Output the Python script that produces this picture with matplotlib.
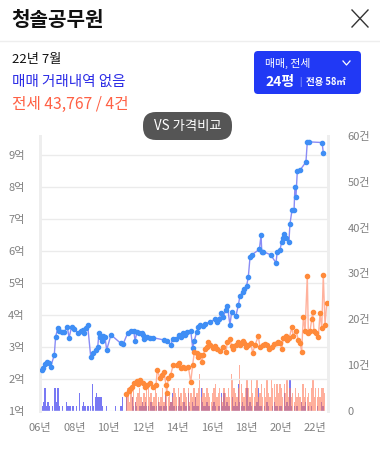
import numpy as np
import matplotlib.pyplot as plt
from matplotlib.patches import FancyBboxPatch

plt.rcParams['font.family'] = ['Noto Sans CJK KR', 'DejaVu Sans']

# 매매 시세 (억) - 연도(소수), 가격
sale_year = [2006.10, 2006.19, 2006.29, 2006.42, 2006.52, 2006.62, 2006.83, 2006.91,
             2007.03, 2007.11, 2007.26, 2007.41, 2007.59, 2007.69, 2007.84, 2008.00,
             2008.19, 2008.37, 2008.52, 2008.58, 2008.66, 2008.77, 2008.95, 2009.10,
             2009.24, 2009.36, 2009.43, 2009.51, 2009.59, 2009.66, 2009.78, 2009.88,
             2010.13, 2010.71, 2010.83, 2011.10, 2011.29, 2011.45, 2011.53, 2011.64,
             2011.76, 2011.92, 2012.01, 2012.05, 2012.24, 2012.40, 2012.59, 2013.21,
             2013.37, 2013.60, 2013.72, 2013.91, 2014.10, 2014.22, 2014.34, 2014.44,
             2014.53, 2014.77, 2014.88, 2014.98, 2015.12, 2015.21, 2015.31, 2015.46,
             2015.60, 2015.89, 2016.18, 2016.28, 2016.43, 2016.53, 2016.66, 2016.82,
             2016.90, 2017.05, 2017.15, 2017.40, 2017.54, 2017.63, 2017.79, 2017.87,
             2018.02, 2018.12, 2018.22, 2018.32, 2018.76, 2018.86, 2018.90, 2018.99,
             2019.42, 2019.73, 2019.80, 2019.96, 2020.06, 2020.12, 2020.19, 2020.31,
             2020.48, 2020.54, 2020.66, 2020.78, 2020.83, 2020.89, 2020.97, 2021.13,
             2021.47, 2021.55, 2021.67, 2022.41, 2022.48]
sale_price = [2.28, 2.35, 2.46, 2.54, 2.49, 2.38, 2.75, 3.32,
              3.58, 3.51, 3.48, 3.47, 3.63, 3.29, 3.63, 3.55,
              3.45, 3.51, 3.53, 3.43, 3.58, 3.69, 2.70, 2.80,
              2.91, 3.01, 3.45, 3.32, 3.20, 3.34, 3.30, 2.91,
              3.38, 3.11, 3.09, 3.43, 3.51, 3.51, 3.20, 3.46,
              3.43, 3.43, 3.38, 3.24, 3.32, 3.29, 3.29, 3.22,
              3.20, 3.06, 3.24, 3.25, 3.38, 3.32, 3.45, 3.38,
              3.48, 3.51, 2.98, 3.20, 3.48, 3.61, 3.69, 3.66,
              3.72, 3.79, 3.86, 3.79, 3.86, 4.07, 3.95, 4.16,
              4.29, 3.69, 4.10, 3.98, 4.31, 4.60, 4.72, 4.82,
              4.91, 5.20, 5.82, 5.88, 6.05, 6.50, 5.98, 5.98,
              5.88, 5.63, 5.98, 6.03, 6.29, 6.40, 6.53, 6.40,
              6.29, 6.84, 7.28, 7.28, 8.01, 7.70, 8.51, 8.53,
              8.78, 9.41, 9.41, 9.39, 9.07]

# 전세 시세 (억)
rent_year = [2011.03, 2011.16, 2011.24, 2011.33, 2011.49, 2011.63, 2011.70, 2011.82,
             2012.01, 2012.11, 2012.24, 2012.40, 2012.59, 2012.75, 2012.82, 2012.98,
             2013.08, 2013.21, 2013.33, 2013.37, 2013.46, 2013.60, 2013.75, 2013.95,
             2014.10, 2014.18, 2014.30, 2014.44, 2014.63, 2014.77, 2014.88, 2014.98,
             2015.12, 2015.21, 2015.31, 2015.41, 2015.50, 2015.60, 2015.70, 2015.79,
             2015.89, 2016.05, 2016.18, 2016.28, 2016.47, 2016.66, 2016.82, 2016.90,
             2017.05, 2017.15, 2017.24, 2017.40, 2017.54, 2017.63, 2017.79, 2017.87,
             2017.98, 2018.12, 2018.26, 2018.37, 2018.51, 2018.70, 2018.80, 2018.96,
             2019.09, 2019.22, 2019.34, 2019.48, 2019.61, 2019.77, 2019.86, 2019.96,
             2020.06, 2020.15, 2020.31, 2020.39, 2020.50, 2020.64, 2020.74, 2020.89,
             2021.03, 2021.13, 2021.22, 2021.32, 2021.42, 2021.55, 2021.61, 2021.71,
             2021.81, 2021.86, 2021.94, 2022.06, 2022.19, 2022.29, 2022.39, 2022.48,
             2022.58, 2022.68]
rent_price = [1.53, 1.62, 1.68, 1.74, 1.88, 1.95, 1.84, 1.97,
              1.87, 1.76, 1.81, 1.87, 1.76, 1.81, 2.28, 2.02,
              2.13, 2.23, 1.81, 1.57, 2.02, 2.13, 2.44, 2.44,
              2.49, 2.33, 2.38, 2.33, 2.38, 1.90, 2.44, 2.85,
              2.80, 2.68, 2.75, 2.54, 2.75, 2.93, 2.99, 3.17,
              3.06, 2.96, 3.03, 2.93, 2.89, 3.01, 2.85, 3.17,
              3.24, 3.03, 2.93, 3.06, 3.17, 3.06, 3.20, 3.14,
              3.01, 3.06, 3.14, 2.82, 3.06, 3.34, 2.99, 3.06,
              3.09, 3.06, 2.93, 3.01, 3.08, 3.11, 3.17, 3.14,
              2.93, 3.27, 3.34, 3.22, 3.27, 3.61, 3.34, 3.51,
              3.22, 3.14, 2.85, 3.95, 3.50, 5.22, 3.43, 3.51,
              3.87, 4.10, 3.51, 3.43, 3.30, 4.05, 3.58, 5.25,
              3.69, 4.37]

# 월별 매매 거래건수 (2006-01 ~ 2022-07)
sale_counts = [1, 1, 2, 5, 1, 2, 1, 0, 1, 0, 5, 2,
               5, 1, 0, 1, 0, 0, 2, 1, 1, 1, 1, 1,
               0, 1, 0, 4, 0, 1, 2, 1, 0, 1, 0, 1,
               6, 1, 3, 4, 3, 3, 3, 1, 0, 0, 1, 0,
               0, 0, 0, 0, 1, 0, 0, 0, 1, 3, 0, 0,
               3, 0, 0, 0, 3, 1, 2, 1, 0, 1, 1, 2,
               1, 2, 1, 1, 0, 2, 1, 1, 0, 1, 2, 1,
               1, 0, 1, 4, 1, 0, 1, 2, 4, 1, 0, 1,
               1, 3, 1, 0, 2, 1, 1, 4, 1, 0, 2, 1,
               3, 1, 1, 0, 5, 2, 1, 1, 2, 1, 1, 0,
               1, 2, 1, 0, 1, 1, 4, 1, 4, 1, 2, 1,
               1, 0, 3, 1, 2, 1, 6, 2, 1, 2, 1, 0,
               5, 1, 2, 1, 0, 1, 1, 2, 5, 1, 1, 0,
               1, 0, 2, 1, 0, 0, 1, 2, 1, 1, 0, 1,
               1, 0, 4, 1, 2, 1, 7, 1, 0, 1, 0, 1,
               0, 0, 2, 1, 1, 2, 0, 1, 0, 1, 0, 0,
               0, 1, 0, 0, 2, 1, 0]

# 월별 전세 거래건수 (2011-01 ~ 2022-07)
rent_counts = [3, 5, 2, 4, 3, 5, 2, 3, 4, 5, 3, 2,
               4, 3, 6, 5, 3, 4, 2, 3, 5, 4, 3, 2,
               3, 5, 2, 4, 5, 3, 4, 2, 3, 5, 4, 3,
               5, 3, 4, 2, 5, 4, 3, 5, 2, 4, 3, 5,
               3, 4, 5, 8, 3, 5, 4, 3, 5, 4, 3, 2,
               4, 5, 6, 3, 4, 5, 3, 2, 5, 4, 3, 5,
               3, 8, 7, 5, 4, 3, 5, 10, 6, 4, 3, 5,
               7, 5, 3, 7, 4, 3, 5, 7, 3, 4, 6, 3,
               5, 3, 7, 4, 3, 7, 5, 6, 3, 6, 4, 6,
               5, 3, 6, 4, 7, 3, 5, 3, 4, 2, 5, 3,
               4, 3, 2, 6, 3, 5, 3, 4, 2, 5, 7, 3,
               5, 3, 5, 3, 5, 5, 4]

year_ticks = list(range(2006, 2023, 2))
year_labels = ['%02d년' % (y % 100) for y in year_ticks]
price_ticks = list(range(1, 10))
price_labels = ['%d억' % p for p in price_ticks]
count_ticks = [0, 10, 20, 30, 40, 50, 60]
count_labels = ['0'] + ['%d건' % c for c in count_ticks[1:]]

W, H = 380, 451
fig = plt.figure(figsize=(W / 100, H / 100), dpi=100)
fig.patch.set_facecolor('white')

# chart area
left, right, top, bottom = 40, 328, 136, 411
rect = [left / W, 1 - bottom / H, (right - left) / W, (bottom - top) / H]
ax_cnt = fig.add_axes(rect)
ax = ax_cnt.twinx()

sale_x = 2006 + np.arange(len(sale_counts)) / 12 + 1 / 24
rent_x = 2011 + np.arange(len(rent_counts)) / 12 + 1 / 24
ax_cnt.bar(sale_x, sale_counts, width=0.9 / 12, color='#4646f0', alpha=0.72, linewidth=0)
ax_cnt.bar(rent_x, rent_counts, width=0.9 / 12, color='#ff7a5a', alpha=0.6, linewidth=0)
ax_cnt.set_ylim(0, 60)

ax.plot(sale_year, sale_price, color='#8a8cf5', lw=1, marker='o', ms=3,
        mfc='#3f8ef5', mec='#3f8ef5', zorder=3)
ax.plot(rent_year, rent_price, color='#ffb19c', lw=1, marker='o', ms=3,
        mfc='#ff8a3a', mec='#ff8a3a', zorder=3)
ax.set_ylim(1, 1 + (bottom - top) / 32)
ax.set_xlim(2006, 2006 + (right - left) / 17.19)

# axis sides: price on left, count on right
ax.yaxis.tick_left()
ax_cnt.yaxis.tick_right()
ax.set_yticks(price_ticks)
ax.set_yticklabels(price_labels)
ax_cnt.set_yticks(count_ticks)
ax_cnt.set_yticklabels(count_labels)
ax_cnt.set_xticks(year_ticks)
ax_cnt.set_xticklabels(year_labels)

ax.tick_params(axis='y', length=0, pad=11, labelsize=8, labelcolor='#808080')
ax_cnt.tick_params(axis='y', length=0, pad=14, labelsize=8, labelcolor='#808080')
ax_cnt.tick_params(axis='x', length=0, pad=9, labelsize=8, labelcolor='#808080')
ax.tick_params(axis='x', length=0, labelbottom=False)

ax.grid(axis='y', color='#ebebeb', lw=1)
ax.set_axisbelow(True)
for a in (ax, ax_cnt):
    for s in ('top', 'bottom'):
        a.spines[s].set_visible(False)
    a.spines['left'].set_color('#eeeeee')
    a.spines['right'].set_color('#eeeeee')
    a.spines['left'].set_linewidth(2)
    a.spines['right'].set_linewidth(2)
ax.patch.set_visible(False)

# header overlay in pixel coordinates
ov = fig.add_axes([0, 0, 1, 1], zorder=10)
ov.set_xlim(0, W)
ov.set_ylim(H, 0)
ov.axis('off')
ov.patch.set_visible(False)

ov.text(11, 19, '청솔공무원', fontsize=14.5, fontweight='bold', color='#111111', va='center')
ov.plot([352, 368], [10, 27], color='#333333', lw=1)
ov.plot([352, 368], [27, 10], color='#333333', lw=1)
ov.plot([0, W], [40.5, 40.5], color='#eeeeee', lw=1)

ov.text(12, 60, '22년 7월', fontsize=9.5, fontweight='medium', color='#111111', va='center')
ov.text(12, 82, '매매 거래내역 없음', fontsize=10.5, fontweight='medium', color='#2b2be6', va='center')
ov.text(12, 104, '전세 43,767 / 4건', fontsize=11.3, fontweight='medium', color='#ff6044', va='center')

btn = FancyBboxPatch((254, 51), 107, 43, boxstyle='round,pad=0,rounding_size=4',
                     fc='#2139f5', ec='none')
ov.add_patch(btn)
ov.text(265, 63, '매매, 전세', fontsize=7.8, fontweight='medium', color='white', va='center')
ov.plot([343, 346.5, 350], [61, 65, 61], color='white', lw=0.9)
ov.text(265, 82, '24평', fontsize=10, fontweight='bold', color='white', va='center')
ov.text(299, 82, '|', fontsize=6, color='#c8d0ff', va='center')
ov.text(306, 82, '전용 58㎡', fontsize=6.8, fontweight='bold', color='white', va='center')

pill = FancyBboxPatch((143, 112), 89, 28, boxstyle='round,pad=0,rounding_size=13',
                      fc='#555555', ec='none')
ov.add_patch(pill)
ov.text(187.5, 126, 'VS 가격비교', fontsize=9.6, fontweight='medium', color='white',
        va='center', ha='center')

fig.savefig('out.png', dpi=100)
